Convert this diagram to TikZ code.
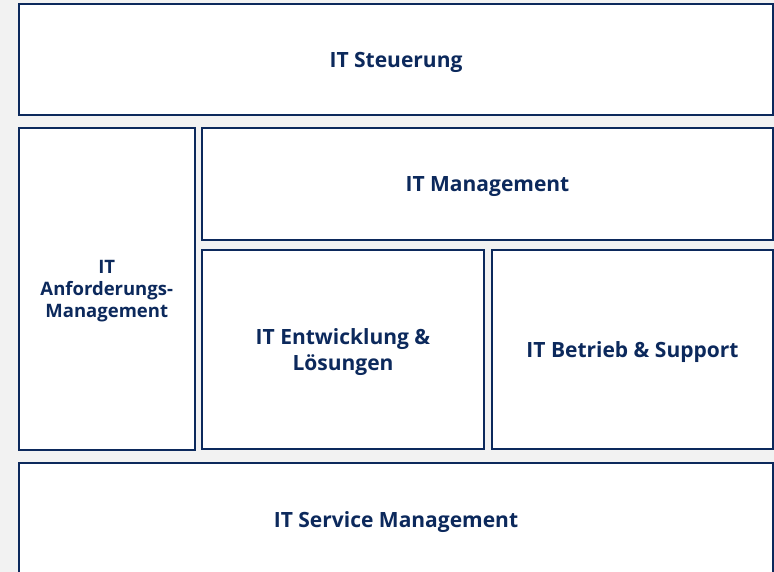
\documentclass[tikz,border=0pt]{standalone}
\usepackage{fontspec}
\setmainfont{Open Sans}
\definecolor{navy}{RGB}{12,41,92}
\definecolor{bg}{RGB}{242,242,242}
\begin{document}
\begin{tikzpicture}[x=1pt,y=-1pt,
  box/.style={draw=navy, fill=white, line width=2pt, inner sep=0pt, outer sep=0pt,
    text=navy, font=\bfseries\fontsize{21}{26}\selectfont, align=center, text depth=0pt},
  smallbox/.style={box, font=\bfseries\fontsize{18.5}{22}\selectfont}]
\fill[bg] (0,0) rectangle (774,572);
\useasboundingbox (0,0) rectangle (774,572);
\clip (0,0) rectangle (774,572);
\node[box, minimum width=754pt, minimum height=111pt] (steuerung) at (396,59.5) {IT Steuerung};
\node[smallbox, minimum width=175.5pt, minimum height=322pt] (anf) at (106.75,289) {IT\\Anforderungs-\\Management};
\node[box, minimum width=571pt, minimum height=112pt] (mgmt) at (487.5,184) {IT Management};
\node[box, minimum width=282pt, minimum height=199pt] (entw) at (343,349.5) {IT Entwicklung \&\\Lösungen};
\node[box, minimum width=281pt, minimum height=199pt] (betr) at (632.5,349.5) {IT Betrieb \& Support};
\node[box, minimum width=754pt, minimum height=114pt] (service) at (396,520) {IT Service Management};
\end{tikzpicture}
\end{document}
